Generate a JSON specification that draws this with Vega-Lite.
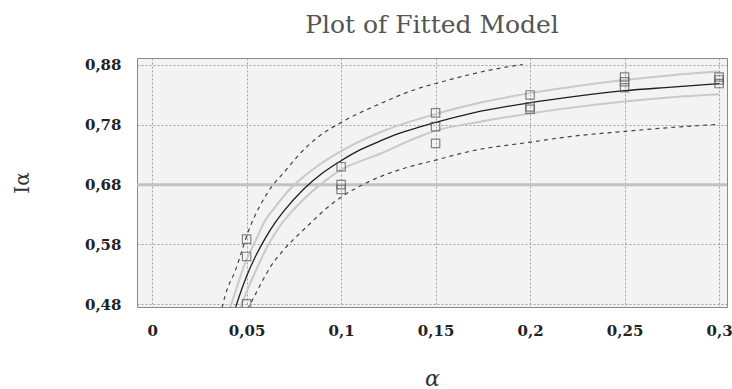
{
  "$schema": "https://vega.github.io/schema/vega-lite/v6.json",
  "width": 590,
  "height": 249,
  "autosize": {"type": "none"},
  "padding": {"left": 137, "top": 58, "right": 5, "bottom": 82},
  "background": "white",
  "title": {"text": "Plot of Fitted Model", "font": "DejaVu Serif", "fontSize": 25, "fontWeight": "normal", "color": "#555555", "offset": 20, "anchor": "middle"},
  "config": {
    "locale": {"number": {"decimal": ",", "thousands": ".", "grouping": [3], "currency": ["", ""]}},
    "view": {"stroke": "#8a8a8a", "fill": "#f3f3f3"},
    "axis": {"domain": false, "ticks": false, "grid": true, "gridColor": "#a0a0a0", "gridDash": [2, 2], "gridWidth": 1,
      "labelFont": "DejaVu Serif", "labelFontWeight": "bold", "labelFontSize": 15, "labelColor": "#222222",
      "titleFont": "DejaVu Serif", "titleFontWeight": "normal", "titleColor": "#333333"}
  },
  "datasets": {
    "points": [
      {"x": 0.05, "y": 0.589}, {"x": 0.05, "y": 0.560}, {"x": 0.05, "y": 0.481},
      {"x": 0.1, "y": 0.710}, {"x": 0.1, "y": 0.680}, {"x": 0.1, "y": 0.672},
      {"x": 0.15, "y": 0.800}, {"x": 0.15, "y": 0.777}, {"x": 0.15, "y": 0.749},
      {"x": 0.2, "y": 0.830}, {"x": 0.2, "y": 0.810}, {"x": 0.2, "y": 0.806},
      {"x": 0.25, "y": 0.860}, {"x": 0.25, "y": 0.852}, {"x": 0.25, "y": 0.842},
      {"x": 0.3, "y": 0.860}, {"x": 0.3, "y": 0.855}, {"x": 0.3, "y": 0.849}
    ],
    "curves": [
      {"s": "fit", "x": 0.043, "y": 0.463}, {"s": "fit", "x": 0.045, "y": 0.483}, {"s": "fit", "x": 0.0475, "y": 0.506},
      {"s": "fit", "x": 0.05, "y": 0.527}, {"s": "fit", "x": 0.055, "y": 0.562}, {"s": "fit", "x": 0.06, "y": 0.591},
      {"s": "fit", "x": 0.065, "y": 0.616}, {"s": "fit", "x": 0.07, "y": 0.637}, {"s": "fit", "x": 0.08, "y": 0.672},
      {"s": "fit", "x": 0.09, "y": 0.699}, {"s": "fit", "x": 0.1, "y": 0.720}, {"s": "fit", "x": 0.11, "y": 0.738},
      {"s": "fit", "x": 0.12, "y": 0.752}, {"s": "fit", "x": 0.13, "y": 0.765}, {"s": "fit", "x": 0.14, "y": 0.775},
      {"s": "fit", "x": 0.15, "y": 0.784}, {"s": "fit", "x": 0.17, "y": 0.800}, {"s": "fit", "x": 0.2, "y": 0.817},
      {"s": "fit", "x": 0.225, "y": 0.828}, {"s": "fit", "x": 0.25, "y": 0.837}, {"s": "fit", "x": 0.275, "y": 0.843},
      {"s": "fit", "x": 0.3, "y": 0.849},
      {"s": "confU", "x": 0.041, "y": 0.472}, {"s": "confU", "x": 0.045, "y": 0.510}, {"s": "confU", "x": 0.0486, "y": 0.544},
      {"s": "confU", "x": 0.055, "y": 0.588}, {"s": "confU", "x": 0.0602, "y": 0.622}, {"s": "confU", "x": 0.065, "y": 0.642},
      {"s": "confU", "x": 0.071, "y": 0.666}, {"s": "confU", "x": 0.08, "y": 0.693}, {"s": "confU", "x": 0.087, "y": 0.710},
      {"s": "confU", "x": 0.1, "y": 0.736}, {"s": "confU", "x": 0.121, "y": 0.768}, {"s": "confU", "x": 0.15, "y": 0.798},
      {"s": "confU", "x": 0.175, "y": 0.818}, {"s": "confU", "x": 0.2, "y": 0.833}, {"s": "confU", "x": 0.225, "y": 0.845},
      {"s": "confU", "x": 0.25, "y": 0.855}, {"s": "confU", "x": 0.275, "y": 0.863}, {"s": "confU", "x": 0.3, "y": 0.869},
      {"s": "confL", "x": 0.0465, "y": 0.473}, {"s": "confL", "x": 0.0505, "y": 0.505}, {"s": "confL", "x": 0.055, "y": 0.537},
      {"s": "confL", "x": 0.0602, "y": 0.572}, {"s": "confL", "x": 0.067, "y": 0.608}, {"s": "confL", "x": 0.0748, "y": 0.638},
      {"s": "confL", "x": 0.083, "y": 0.664}, {"s": "confL", "x": 0.0923, "y": 0.688}, {"s": "confL", "x": 0.1, "y": 0.705},
      {"s": "confL", "x": 0.11, "y": 0.719}, {"s": "confL", "x": 0.121, "y": 0.732}, {"s": "confL", "x": 0.135, "y": 0.752},
      {"s": "confL", "x": 0.15, "y": 0.770}, {"s": "confL", "x": 0.175, "y": 0.786}, {"s": "confL", "x": 0.2, "y": 0.799},
      {"s": "confL", "x": 0.225, "y": 0.810}, {"s": "confL", "x": 0.25, "y": 0.819}, {"s": "confL", "x": 0.275, "y": 0.826},
      {"s": "confL", "x": 0.3, "y": 0.831},
      {"s": "predU", "x": 0.037, "y": 0.474}, {"s": "predU", "x": 0.0386, "y": 0.494}, {"s": "predU", "x": 0.0442, "y": 0.538},
      {"s": "predU", "x": 0.0513, "y": 0.605}, {"s": "predU", "x": 0.061, "y": 0.666}, {"s": "predU", "x": 0.071, "y": 0.705},
      {"s": "predU", "x": 0.078, "y": 0.731}, {"s": "predU", "x": 0.088, "y": 0.760}, {"s": "predU", "x": 0.1, "y": 0.784},
      {"s": "predU", "x": 0.1205, "y": 0.815}, {"s": "predU", "x": 0.14, "y": 0.840}, {"s": "predU", "x": 0.15, "y": 0.849},
      {"s": "predU", "x": 0.178, "y": 0.871}, {"s": "predU", "x": 0.196, "y": 0.881},
      {"s": "predL", "x": 0.0505, "y": 0.472}, {"s": "predL", "x": 0.0547, "y": 0.497}, {"s": "predL", "x": 0.058, "y": 0.517},
      {"s": "predL", "x": 0.0627, "y": 0.543}, {"s": "predL", "x": 0.0688, "y": 0.568}, {"s": "predL", "x": 0.0786, "y": 0.600},
      {"s": "predL", "x": 0.0839, "y": 0.616}, {"s": "predL", "x": 0.094, "y": 0.645}, {"s": "predL", "x": 0.1, "y": 0.659},
      {"s": "predL", "x": 0.1147, "y": 0.685}, {"s": "predL", "x": 0.133, "y": 0.707}, {"s": "predL", "x": 0.15, "y": 0.721},
      {"s": "predL", "x": 0.1686, "y": 0.736}, {"s": "predL", "x": 0.2, "y": 0.751}, {"s": "predL", "x": 0.2227, "y": 0.761},
      {"s": "predL", "x": 0.25, "y": 0.769}, {"s": "predL", "x": 0.2766, "y": 0.776}, {"s": "predL", "x": 0.3, "y": 0.781}
    ],
    "ref": [{"y": 0.68}]
  },
  "layer": [
    {
      "data": {"name": "ref"},
      "mark": {"type": "rule", "color": "#c2c2c2", "strokeWidth": 3},
      "encoding": {
        "y": {"field": "y", "type": "quantitative", "scale": {"domain": [0.4755, 0.8917], "nice": false, "zero": false},
          "axis": {"values": [0.48, 0.58, 0.68, 0.78, 0.88], "format": ".2f", "labelPadding": 16, "title": "Iα", "titleFontSize": 20, "titlePadding": 52, "titleFontStyle": "normal"}}
      }
    },
    {
      "data": {"name": "curves"},
      "transform": [{"filter": "datum.s === 'confU' || datum.s === 'confL'"}],
      "mark": {"type": "line", "color": "#c9c9c9", "strokeWidth": 2, "interpolate": "monotone", "clip": true},
      "encoding": {
        "detail": {"field": "s"},
        "x": {"field": "x", "type": "quantitative", "scale": {"domain": [-0.008, 0.3042], "nice": false, "zero": false},
          "axis": {"values": [0, 0.05, 0.1, 0.15, 0.2, 0.25, 0.3], "format": "~g", "labelPadding": 16, "title": "α", "titleFontSize": 22, "titleFontStyle": "italic", "titlePadding": 30}},
        "y": {"field": "y", "type": "quantitative", "scale": {"domain": [0.4755, 0.8917], "nice": false, "zero": false},
          "axis": {"values": [0.48, 0.58, 0.68, 0.78, 0.88], "format": ".2f", "labelPadding": 16, "title": "Iα", "titleFontSize": 20, "titlePadding": 52, "titleFontStyle": "normal"}}
      }
    },
    {
      "data": {"name": "curves"},
      "transform": [{"filter": "datum.s === 'predU' || datum.s === 'predL'"}],
      "mark": {"type": "line", "color": "#444444", "strokeWidth": 1.2, "strokeDash": [4, 4], "interpolate": "monotone", "clip": true},
      "encoding": {
        "detail": {"field": "s"},
        "x": {"field": "x", "type": "quantitative", "scale": {"domain": [-0.008, 0.3042], "nice": false, "zero": false},
          "axis": {"values": [0, 0.05, 0.1, 0.15, 0.2, 0.25, 0.3], "format": "~g", "labelPadding": 16, "title": "α", "titleFontSize": 22, "titleFontStyle": "italic", "titlePadding": 30}},
        "y": {"field": "y", "type": "quantitative", "scale": {"domain": [0.4755, 0.8917], "nice": false, "zero": false},
          "axis": {"values": [0.48, 0.58, 0.68, 0.78, 0.88], "format": ".2f", "labelPadding": 16, "title": "Iα", "titleFontSize": 20, "titlePadding": 52, "titleFontStyle": "normal"}}
      }
    },
    {
      "data": {"name": "curves"},
      "transform": [{"filter": "datum.s === 'fit'"}],
      "mark": {"type": "line", "color": "#1e1e1e", "strokeWidth": 1.3, "interpolate": "monotone", "clip": true},
      "encoding": {
        "x": {"field": "x", "type": "quantitative", "scale": {"domain": [-0.008, 0.3042], "nice": false, "zero": false},
          "axis": {"values": [0, 0.05, 0.1, 0.15, 0.2, 0.25, 0.3], "format": "~g", "labelPadding": 16, "title": "α", "titleFontSize": 22, "titleFontStyle": "italic", "titlePadding": 30}},
        "y": {"field": "y", "type": "quantitative", "scale": {"domain": [0.4755, 0.8917], "nice": false, "zero": false},
          "axis": {"values": [0.48, 0.58, 0.68, 0.78, 0.88], "format": ".2f", "labelPadding": 16, "title": "Iα", "titleFontSize": 20, "titlePadding": 52, "titleFontStyle": "normal"}}
      }
    },
    {
      "data": {"name": "points"},
      "mark": {"type": "point", "shape": "square", "filled": false, "size": 70, "stroke": "#555555", "strokeWidth": 1.2, "clip": true},
      "encoding": {
        "x": {"field": "x", "type": "quantitative", "scale": {"domain": [-0.008, 0.3042], "nice": false, "zero": false},
          "axis": {"values": [0, 0.05, 0.1, 0.15, 0.2, 0.25, 0.3], "format": "~g", "labelPadding": 16, "title": "α", "titleFontSize": 22, "titleFontStyle": "italic", "titlePadding": 30}},
        "y": {"field": "y", "type": "quantitative", "scale": {"domain": [0.4755, 0.8917], "nice": false, "zero": false},
          "axis": {"values": [0.48, 0.58, 0.68, 0.78, 0.88], "format": ".2f", "labelPadding": 16, "title": "Iα", "titleFontSize": 20, "titlePadding": 52, "titleFontStyle": "normal"}}
      }
    }
  ]
}
